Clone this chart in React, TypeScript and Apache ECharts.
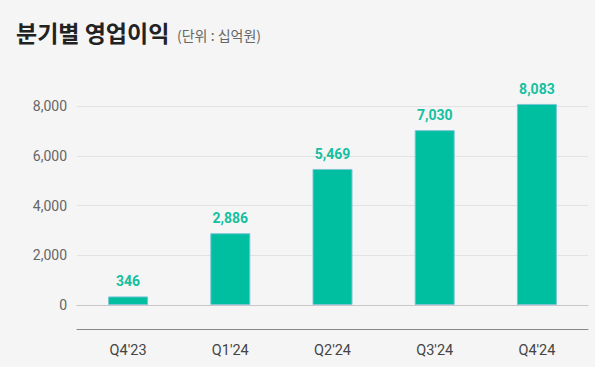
import React, { useEffect, useRef } from "react";
import * as echarts from "echarts";

const categories = ["Q4'23", "Q1'24", "Q2'24", "Q3'24", "Q4'24"];
const values = [346, 2886, 5469, 7030, 8083];
const yTicks = [0, 2000, 4000, 6000, 8000];

export default function App() {
  const ref = useRef<HTMLDivElement>(null);
  useEffect(() => {
    if (!ref.current) return;
    const chart = echarts.init(ref.current, null, { renderer: "svg" });
    const font = "Roboto, 'Noto Sans CJK KR', sans-serif";
    chart.setOption({
      animation: false,
      backgroundColor: "#f5f5f5",
      textStyle: { fontFamily: font },
      title: [
        {
          text: "분기별 영업이익",
          left: 11,
          top: 15,
          textStyle: { fontSize: 23, fontWeight: "bold", color: "#222", fontFamily: "'Noto Sans CJK KR', sans-serif" },
        },
        {
          text: "(단위 : 십억원)",
          left: 172,
          top: 23,
          textStyle: { fontSize: 14, fontWeight: "normal", color: "#666", fontFamily: "'Noto Sans CJK KR', sans-serif" },
        },
      ],
      grid: { left: 77, right: 7, top: 106, bottom: 62 },
      xAxis: [
        {
          type: "category",
          data: categories,
          axisLine: { show: true, onZero: true, lineStyle: { color: "#c8c8c8", width: 1 } },
          axisTick: { show: false },
          axisLabel: { show: false },
        },
        {
          type: "category",
          data: categories,
          position: "bottom",
          offset: 24,
          axisLine: { show: true, onZero: false, lineStyle: { color: "#888", width: 1 } },
          axisTick: { show: false },
          axisLabel: { show: true, color: "#444", fontSize: 14.5, margin: 14, fontFamily: font },
        },
      ],
      yAxis: {
        type: "value",
        min: yTicks[0],
        max: yTicks[yTicks.length - 1],
        interval: 2000,
        axisLine: { show: false },
        axisTick: { show: false },
        axisLabel: {
          color: "#666",
          fontSize: 14,
          margin: 10,
          fontFamily: font,
          formatter: (v: number) => v.toLocaleString("en-US"),
        },
        splitLine: { lineStyle: { color: "#e2e2e2", width: 1 } },
      },
      series: [
        {
          type: "bar",
          xAxisIndex: 0,
          data: values,
          barWidth: 40,
          clip: false,
          itemStyle: { color: "#00bfa0", borderColor: "#7cc4d6", borderWidth: 1 },
          label: {
            show: true,
            position: "top",
            distance: 8,
            color: "#14c09f",
            fontSize: 14,
            fontWeight: "bold",
            fontFamily: font,
            formatter: (p: any) => Number(p.value).toLocaleString("en-US"),
          },
        },
      ],
    });
    return () => chart.dispose();
  }, []);
  return <div ref={ref} style={{ width: 595, height: 367, position: "fixed", left: 0, top: 0 }} />;
}
